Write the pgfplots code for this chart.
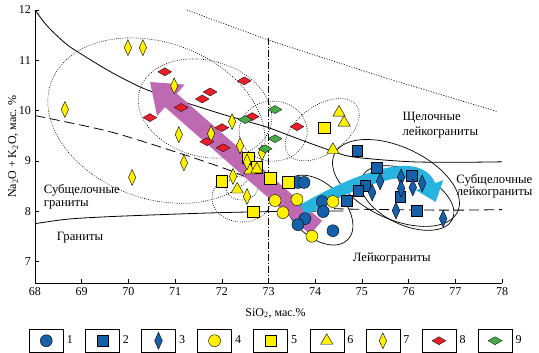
\documentclass[12pt,border=0pt]{standalone}
\usepackage{fontspec}
\setmainfont{Liberation Serif}
\usepackage{pgfplots}
\pgfplotsset{compat=1.18}
\usetikzlibrary{arrows.meta}
\definecolor{cblue}{RGB}{22,96,170}
\definecolor{cyel}{RGB}{255,240,0}
\definecolor{cred}{RGB}{232,30,40}
\definecolor{cgreen}{RGB}{70,170,70}
\definecolor{cpurple}{RGB}{190,105,178}
\definecolor{ccyan}{RGB}{40,180,225}
\begin{document}
\begin{tikzpicture}
\begin{axis}[name=ax, scale only axis, width=467pt, height=273pt,
 xmin=68, xmax=78, ymin=6.57, ymax=12,
 axis x line=bottom, axis y line=left, axis line style={-, line width=0.6pt},
 xtick={68,...,78}, ytick={7,...,12},
 tick align=inside, major tick length=4pt, tick style={line width=0.6pt, black},
 /pgf/number format/assume math mode=true,
 xlabel={SiO\textsubscript{2}, мас.\%},
 ylabel={Na\textsubscript{2}O + K\textsubscript{2}O, мас. \%},
 x label style={at={(axis description cs:0.515,-0.11)}, anchor=center},
 y label style={at={(axis description cs:-0.047,0.5)}, anchor=center, rotate=0},
 clip=false,
 legend style={at={(axis description cs:-0.0128,-0.1685)}, anchor=north west, draw=none, fill=none, inner sep=0pt, outer sep=0pt, legend columns=9, /tikz/every even column/.append style={column sep=9pt}, nodes={inner sep=3.3pt}},
 legend image code/.code={\draw[black, line width=0.5pt, fill=white] (0pt,-11.5pt) rectangle (34pt,11.5pt); \draw[#1, only marks] plot coordinates {(17pt,0pt)};},
]
% boundary lines
\addplot[forget plot, black, line width=0.8pt, smooth] coordinates {(68.0,12.0)(68.2,11.75)(68.4,11.55)(68.7,11.3)(69.03,11.1)(69.6,10.78)(70.25,10.47)(70.8,10.28)(71.32,10.13)(72.0,9.93)(72.6,9.77)(73.0,9.66)(73.6,9.45)(74.1,9.28)(74.68,9.1)(75.3,9.03)(76.09,8.98)(77,8.97)(78,8.98)};
\addplot[forget plot, black, line width=0.8pt, smooth] coordinates {(68,7.75)(68.7,7.84)(69.6,7.89)(71,7.94)(72,7.97)(73,7.99)(74,8.0)(74.6,8.0)};
\addplot[forget plot, black, line width=0.8pt, dash pattern=on 10pt off 5pt, smooth] coordinates {(68,9.9)(69.6,9.58)(71.1,9.15)(72.2,8.8)(72.8,8.55)(73.3,8.3)(73.8,8.12)(74.4,8.05)(75.5,8.03)(76.5,8.02)(77.3,8.02)(78,8.03)};
\addplot[forget plot, black, line width=0.7pt, dash pattern=on 1pt off 1.6pt] coordinates {(71.25,12.0)(73.0,11.4)(75.5,10.65)(77.9,9.98)};
\addplot[forget plot, black, line width=0.6pt, dash pattern=on 7pt off 2pt on 1pt off 2pt] coordinates {(73,11.45)(73,6.57)};
% dotted field outlines
\draw[black, line width=0.6pt, dash pattern=on 0.8pt off 1.4pt, rotate around={-20:(axis cs:70.6,9.8)}] (axis cs:70.6,9.8) ellipse [x radius=112pt, y radius=78pt];
\draw[black, line width=0.6pt, dash pattern=on 0.8pt off 1.4pt, rotate around={-15:(axis cs:71.64,10.04)}] (axis cs:71.64,10.04) ellipse [x radius=68pt, y radius=48pt];
\draw[black, line width=0.6pt, dash pattern=on 0.8pt off 1.4pt] (axis cs:73.10,9.59) ellipse [x radius=34pt, y radius=30pt];
\draw[black, line width=0.6pt, dash pattern=on 0.8pt off 1.4pt, rotate around={35:(axis cs:74.15,9.62)}] (axis cs:74.15,9.62) ellipse [x radius=42pt, y radius=24pt];
\draw[black, line width=0.6pt, dash pattern=on 0.8pt off 1.4pt] (axis cs:72.43,8.26) ellipse [x radius=30pt, y radius=24pt];
\draw[black, line width=0.6pt, dash pattern=on 0.8pt off 1.4pt] (axis cs:72.43,8.46) ellipse [x radius=16pt, y radius=12pt];
% solid outlines
\draw[black, line width=0.7pt, rotate around={-45:(axis cs:74.06,8.02)}] (axis cs:74.06,8.02) ellipse [x radius=42pt, y radius=26pt];
\draw[black, line width=0.7pt, rotate around={-25:(axis cs:75.73,8.56)}] (axis cs:75.73,8.56) ellipse [x radius=68pt, y radius=36pt];
\draw[black, line width=0.7pt, rotate around={-25:(axis cs:75.97,8.26)}] (axis cs:75.97,8.26) ellipse [x radius=50pt, y radius=27pt];
% arrows
\draw[cpurple, line width=18pt, -{Triangle[width=40pt,length=28pt]}] (axis cs:74.02,7.67) -- (axis cs:70.46,10.57);
\draw[ccyan, line width=12pt, -{Triangle[width=28pt,length=18pt]}] (axis cs:73.74,8.02) to[out=30,in=110] (axis cs:76.58,8.18);
% data
\addplot[only marks, mark=*, mark size=6pt, mark options={fill=cblue, draw=black, line width=0.4pt}] coordinates {(73.63,8.57)(73.76,8.57)(74.15,8.19)(74.17,7.99)(73.78,7.85)(73.63,7.73)(74.38,7.61)};
\addlegendentry{1}
\addplot[only marks, mark=square*, mark size=5.4pt, mark options={fill=cblue, draw=black, line width=0.4pt}] coordinates {(74.90,9.20)(75.32,8.87)(75.07,8.51)(74.92,8.41)(74.68,8.21)(76.07,8.71)(75.82,8.29)(76.18,8.01)};
\addlegendentry{2}
\addplot[only marks, mark=diamond*, mark size=8.5pt, mark options={xscale=0.6, fill=cblue, draw=black, line width=0.4pt}] coordinates {(75.39,8.59)(75.22,8.37)(75.84,8.67)(75.84,8.45)(76.09,8.47)(76.29,8.55)(75.73,8.01)(76.74,7.85)};
\addlegendentry{3}
\addplot[only marks, mark=*, mark size=6pt, mark options={fill=cyel, draw=black, line width=0.4pt}] coordinates {(73.14,8.21)(73.31,7.97)(73.61,8.23)(73.93,7.50)(74.38,8.19)};
\addlegendentry{4}
\addplot[only marks, mark=square*, mark size=5.8pt, mark options={fill=cyel, draw=black, line width=0.4pt}] coordinates {(72.00,8.59)(73.03,8.65)(73.42,8.57)(72.67,7.99)(72.56,9.06)(72.75,8.87)(74.19,9.66)};
\addlegendentry{5}
\addplot[only marks, mark=triangle*, mark size=7pt, mark options={fill=cyel, draw=black, line width=0.4pt}] coordinates {(74.51,9.96)(74.62,9.76)(74.38,9.22)(72.33,8.43)(72.60,8.81)(72.75,8.83)};
\addlegendentry{6}
\addplot[only marks, mark=diamond*, mark size=8pt, mark options={xscale=0.61, fill=cyel, draw=black, line width=0.4pt}] coordinates {(69.99,11.25)(70.31,11.25)(68.64,10.02)(70.98,10.49)(71.08,9.52)(71.19,8.96)(70.08,8.67)(72.22,9.78)(71.77,9.54)(72.39,9.30)(72.54,8.98)(72.24,8.69)(72.54,8.29)(72.86,9.16)};
\addlegendentry{7}
\addplot[only marks, mark=diamond*, mark size=4pt, mark options={xscale=2.3, fill=cred, draw=black, line width=0.3pt}] coordinates {(70.78,10.77)(71.75,10.37)(71.58,10.23)(71.13,10.06)(70.46,9.86)(72.48,10.59)(72.00,9.66)(71.68,9.38)(72.03,9.26)(72.65,9.88)(73.61,9.68)};
\addlegendentry{8}
\addplot[only marks, mark=diamond*, mark size=4pt, mark options={xscale=2.3, fill=cgreen, draw=black, line width=0.3pt}] coordinates {(72.50,9.82)(73.14,10.02)(73.14,9.44)(72.93,9.24)};
\addlegendentry{9}
% field labels
\begin{scope}[font=\fontsize{12.7}{15}\selectfont]
\node[anchor=west] at (axis cs:75.78,9.85) {Щелочные};
\node[anchor=west] at (axis cs:75.78,9.57) {лейкограниты};
\node[anchor=east] at (axis cs:78.74,8.62) {Субщелочные};
\node[anchor=east] at (axis cs:78.74,8.36) {лейкограниты};
\node[anchor=west] at (axis cs:68.1,8.42) {Субщелочные};
\node[anchor=west] at (axis cs:68.1,8.13) {граниты};
\node[anchor=west] at (axis cs:68.38,7.47) {Граниты};
\node[anchor=center] at (axis cs:75.64,7.05) {Лейкограниты};
\end{scope}
\end{axis}
\pgfresetboundingbox
\path[use as bounding box] ([shift={(-35pt,-70pt)}]ax.south west) rectangle ([shift={(37pt,10pt)}]ax.north east);
\end{tikzpicture}
\end{document}
